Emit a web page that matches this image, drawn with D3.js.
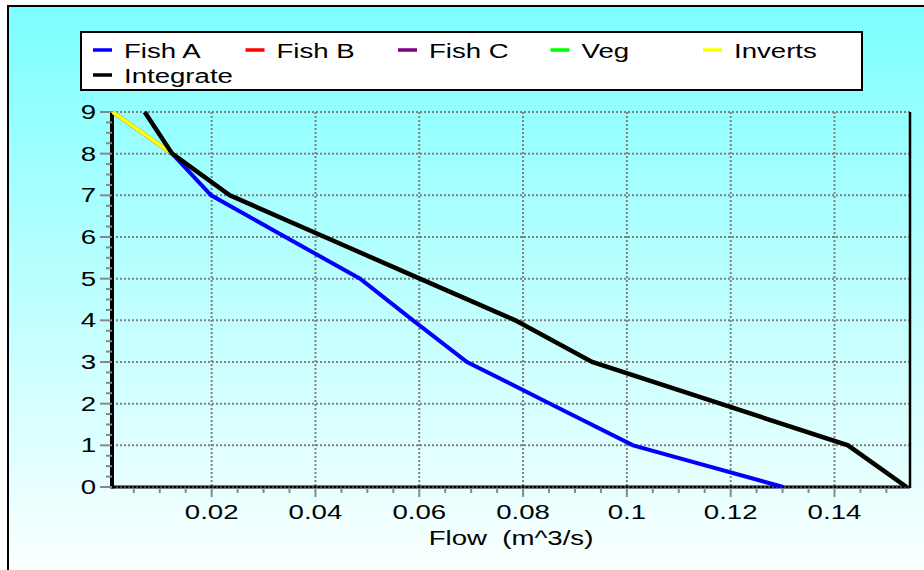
<!DOCTYPE html>
<html>
<head>
<meta charset="utf-8">
<script src="https://cdn.jsdelivr.net/npm/d3@7"></script>
<style>
html,body{margin:0;padding:0;background:#fff;}
svg{display:block;}
text{white-space:pre;}
</style>
</head>
<body>
<svg id="chart" width="924" height="570"></svg>
<script>
// ---- data ----
const depth = [9, 8, 7, 6, 5, 4, 3, 2, 1, 0];
const fishA = [0.0009, 0.0124, 0.0199, 0.0342, 0.0486, 0.0588, 0.0692, 0.0852, 0.1012, 0.1301];
const fishB = [];
const fishC = [];
const veg = [];
const inverts = [0.0009, 0.0124, 0.0235, 0.0418, 0.0601, 0.0785, 0.0933, 0.1180, 0.1426, 0.1539];
const integrate = [0.0071, 0.0124, 0.0235, 0.0418, 0.0601, 0.0785, 0.0933, 0.1180, 0.1426, 0.1539];
const seriesNames = ["Fish A", "Fish B", "Fish C", "Veg", "Inverts", "Integrate"];
const seriesColors = ["#0000ff", "#ff0000", "#800080", "#00ff00", "#ffff00", "#000000"];
const xTicks = [0.02, 0.04, 0.06, 0.08, 0.10, 0.12, 0.14];
const xTickLabels = ["0.02", "0.04", "0.06", "0.08", "0.1", "0.12", "0.14"];
const yTicks = [0, 1, 2, 3, 4, 5, 6, 7, 8, 9];
const xTitle = "Flow  (m^3/s)";

const seriesData = [fishA, fishB, fishC, veg, inverts, integrate];

// ---- layout ----
const W = 924, H = 570;
const plot = {left: 112, right: 910, top: 112, bottom: 487};
const FONT = "'Liberation Sans', Arial, sans-serif";
const SX = 1.38; // horizontal stretch of the text

const svg = d3.select("#chart");
const defs = svg.append("defs");
const grad = defs.append("linearGradient").attr("id", "bg")
  .attr("x1", 0).attr("y1", 0).attr("x2", 0).attr("y2", 1);
grad.append("stop").attr("offset", "0%").attr("stop-color", "#7cffff");
grad.append("stop").attr("offset", "100%").attr("stop-color", "#ffffff");
defs.append("clipPath").attr("id", "clip").append("rect")
  .attr("x", plot.left).attr("y", plot.top - 3)
  .attr("width", plot.right - plot.left).attr("height", plot.bottom - plot.top + 3);

// panel
svg.append("rect").attr("x", 0).attr("y", 0).attr("width", W).attr("height", H).attr("fill", "#ffffff");
svg.append("rect").attr("x", 8).attr("y", 6).attr("width", W + 10).attr("height", H + 10)
  .attr("fill", "url(#bg)").attr("stroke", "#000").attr("stroke-width", 2);

const x = d3.scaleLinear().domain([0.0008, 0.15455]).range([plot.left, plot.right]);
const y = d3.scaleLinear().domain([0, 9]).range([plot.bottom, plot.top]);

function stretchedText(g, tx, ty, str, anchor, size) {
  return g.append("text")
    .attr("transform", `translate(${tx},${ty}) scale(${SX},1)`)
    .attr("text-anchor", anchor)
    .attr("font-family", FONT)
    .attr("font-size", size)
    .attr("xml:space", "preserve")
    .attr("fill", "#000")
    .text(str);
}

// grid
const grid = svg.append("g");
grid.selectAll("line.gx").data(xTicks).join("line")
  .attr("x1", d => x(d)).attr("x2", d => x(d))
  .attr("y1", plot.top).attr("y2", plot.bottom)
  .attr("stroke", "#808080").attr("stroke-width", 2).attr("stroke-dasharray", "2,2");
grid.selectAll("line.gy").data(yTicks).join("line")
  .attr("x1", plot.left).attr("x2", plot.right)
  .attr("y1", d => y(d)).attr("y2", d => y(d))
  .attr("stroke", "#808080").attr("stroke-width", 2).attr("stroke-dasharray", "2,2");

// axes lines
svg.append("line").attr("x1", plot.left).attr("x2", plot.right)
  .attr("y1", plot.bottom).attr("y2", plot.bottom)
  .attr("stroke", "#000").attr("stroke-width", 3);
svg.append("line").attr("x1", plot.left).attr("x2", plot.right)
  .attr("y1", plot.bottom).attr("y2", plot.bottom)
  .attr("stroke", "#888").attr("stroke-width", 1).attr("stroke-dasharray", "2,2");
svg.append("line").attr("x1", plot.right).attr("x2", plot.right)
  .attr("y1", plot.top).attr("y2", plot.bottom + 1)
  .attr("stroke", "#000").attr("stroke-width", 2.5);
svg.append("line").attr("x1", plot.left).attr("x2", plot.left)
  .attr("y1", plot.top).attr("y2", plot.bottom + 1.5)
  .attr("stroke", "#000").attr("stroke-width", 4);

// x ticks
const xMinor = d3.range(1, 31).map(i => i * 0.005).filter(v => v <= 0.1545);
const xMajorSet = new Set(xTicks.map(v => v.toFixed(3)));
svg.append("g").selectAll("line").data(xMinor).join("line")
  .attr("x1", d => x(d)).attr("x2", d => x(d))
  .attr("y1", plot.bottom + 1).attr("y2", d => plot.bottom + (xMajorSet.has(d.toFixed(3)) ? 10 : 6))
  .attr("stroke", "#888").attr("stroke-width", 2);
const xl = svg.append("g");
xTicks.forEach((v, i) => stretchedText(xl, x(v), 519, xTickLabels[i], "middle", 20));

// y ticks
const yMinor = d3.range(0, 37).map(i => i * 0.25);
svg.append("g").selectAll("line").data(yMinor).join("line")
  .attr("x1", d => plot.left - (Number.isInteger(d) ? 12 : 6)).attr("x2", plot.left)
  .attr("y1", d => y(d)).attr("y2", d => y(d))
  .attr("stroke", "#888").attr("stroke-width", 2);
const yl = svg.append("g");
yTicks.forEach(v => stretchedText(yl, 96, y(v) + 7, String(v), "end", 20));

// axis title
stretchedText(svg, (plot.left + plot.right) / 2, 545, xTitle, "middle", 20);

// series
const line = d3.line().x(d => x(d[0])).y(d => y(d[1]));
const lines = svg.append("g").attr("clip-path", "url(#clip)");
seriesData.forEach((vals, i) => {
  if (!vals.length) return;
  const pts = vals.map((v, j) => [v, depth[j]]);
  lines.append("path").attr("d", line(pts))
    .attr("fill", "none").attr("stroke", seriesColors[i])
    .attr("stroke-width", i === 5 ? 4.5 : 4).attr("stroke-linejoin", "miter");
});

// legend
const lg = svg.append("g");
lg.append("rect").attr("x", 81).attr("y", 32).attr("width", 781).attr("height", 58)
  .attr("fill", "#fff").attr("stroke", "#000").attr("stroke-width", 2);
seriesNames.forEach((name, i) => {
  const col = i % 5, row = Math.floor(i / 5);
  const sx = 93 + col * 152.5, cy = 50 + row * 25;
  lg.append("line").attr("x1", sx).attr("x2", sx + 19).attr("y1", cy).attr("y2", cy)
    .attr("stroke", seriesColors[i]).attr("stroke-width", 3.5);
  stretchedText(lg, sx + 31, cy + 7.5, name, "start", 20);
});
</script>
</body>
</html>
